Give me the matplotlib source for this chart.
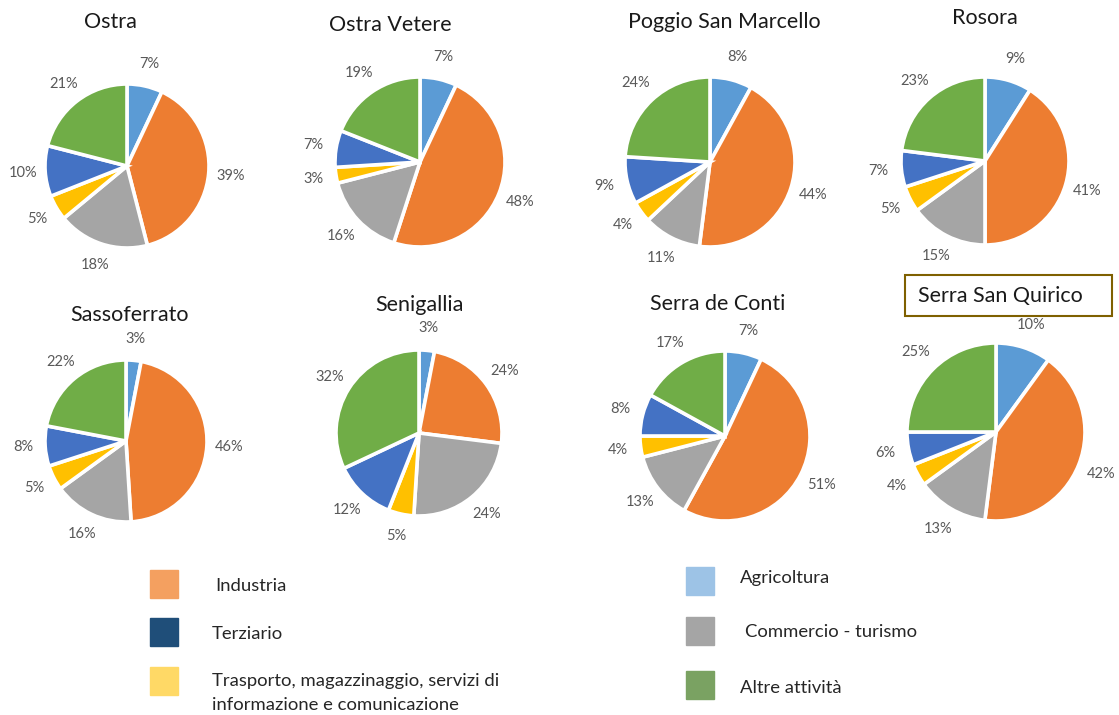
import matplotlib.pyplot as plt
from matplotlib.patches import Rectangle

plt.rcParams['font.family'] = ['Lato', 'DejaVu Sans']

# dati
comuni = ["Ostra", "Ostra Vetere", "Poggio San Marcello", "Rosora",
          "Sassoferrato", "Senigallia", "Serra de Conti", "Serra San Quirico"]
settori = ["Agricoltura", "Industria", "Commercio - turismo",
           "Trasporto, magazzinaggio, servizi di\ninformazione e comunicazione",
           "Terziario", "Altre attività"]
ostra = [7, 39, 18, 5, 10, 21]
ostra_vetere = [7, 48, 16, 3, 7, 19]
poggio = [8, 44, 11, 4, 9, 24]
rosora = [9, 41, 15, 5, 7, 23]
sassoferrato = [3, 46, 16, 5, 8, 22]
senigallia = [3, 24, 24, 5, 12, 32]
serra_conti = [7, 51, 13, 4, 8, 17]
serra_quirico = [10, 42, 13, 4, 6, 25]
valori = [ostra, ostra_vetere, poggio, rosora,
          sassoferrato, senigallia, serra_conti, serra_quirico]

colori_torta = ["#5B9BD5", "#ED7D31", "#A5A5A5", "#FFC000", "#4472C4", "#70AD47"]
colori_legenda = ["#9DC3E6", "#F4A060", "#A5A5A5", "#FFD966", "#1F4E79", "#7AA262"]

W, H = 1119, 715
fig = plt.figure(figsize=(W / 100, H / 100), dpi=100)

# centro x, centro y, raggio, titolo x, titolo y (pixel)
layout = [(127, 166, 82, 110, 22), (420, 162, 85, 390, 25),
          (710, 162, 85, 724, 22), (985, 161, 84, 985, 18),
          (126, 441, 81, 130, 315), (419, 433, 83, 419, 305),
          (725, 436, 85, 718, 304), (996, 432, 89, 1000, 296)]

for nome, vals, (cx, cy, r, tx, ty) in zip(comuni, valori, layout):
    ax = fig.add_axes([(cx - r) / W, 1 - (cy + r) / H, 2 * r / W, 2 * r / H])
    wedges, texts = ax.pie(vals, colors=colori_torta, startangle=90, counterclock=False,
                           labels=[f"{v}%" for v in vals], labeldistance=1.27,
                           wedgeprops=dict(edgecolor="white", linewidth=2.6),
                           textprops=dict(color="#595959", fontsize=10.5))
    for t in texts:
        t.set_ha("center")
        t.set_va("center")
    ax.set_xlim(-1, 1)
    ax.set_ylim(-1, 1)
    ax.set_aspect("equal")
    fig.text(tx / W, 1 - ty / H, nome, ha="center", va="center", fontsize=15.5, color="#1a1a1a")

# riquadro titolo Serra San Quirico
fig.patches.append(Rectangle((905 / W, 1 - 316 / H), 207 / W, 41 / H, transform=fig.transFigure,
                             fill=False, edgecolor="#7F6000", linewidth=1.5))

# legenda
quadrati = [(1, 150, 570), (4, 150, 618), (3, 150, 667),
            (0, 686, 567), (2, 686, 617), (5, 686, 671)]
testi = [(1, 215, 586), (4, 212, 634), (3, 212, 693),
         (0, 740, 578), (2, 745, 632), (5, 740, 688)]
for i, x, y in quadrati:
    fig.patches.append(Rectangle((x / W, 1 - (y + 28) / H), 28 / W, 28 / H,
                                 transform=fig.transFigure, color=colori_legenda[i]))
for i, x, y in testi:
    fig.text(x / W, 1 - y / H, settori[i], ha="left", va="center", fontsize=13.3,
             color="#262626", linespacing=1.55)

fig.savefig("out.png", dpi=100)
